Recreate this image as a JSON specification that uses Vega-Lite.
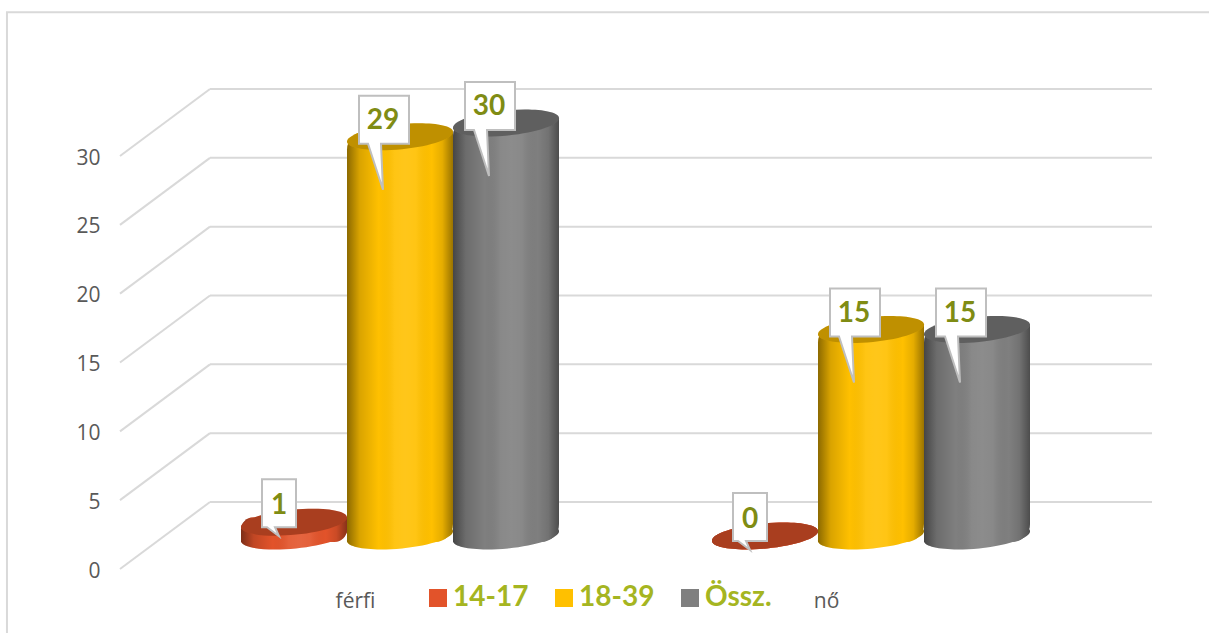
{
"$schema":"https://vega.github.io/schema/vega-lite/v6.json",
"width":942,"height":413,
"autosize":"none",
"padding":{"left":120,"top":156,"right":147,"bottom":64},
"background":"white",
"config":{"view":{"stroke":null}},
"datasets":{
"rows":[
{"nem":"férfi","kor":"14-17","fo":1},
{"nem":"férfi","kor":"18-39","fo":29},
{"nem":"férfi","kor":"Össz.","fo":30},
{"nem":"nő","kor":"14-17","fo":0},
{"nem":"nő","kor":"18-39","fo":15},
{"nem":"nő","kor":"Össz.","fo":15}],
"grid":[{"v":0},{"v":5},{"v":10},{"v":15},{"v":20},{"v":25},{"v":30}]
},
"data":{"name":"rows"},
"layer":[
{"data":{"values":[{"a":1}]},
 "mark":{"type":"rect","fill":null,"stroke":"#d9d9d9","strokeWidth":2,"clip":false},
 "encoding":{
  "x":{"datum":-0.24,"type":"quantitative","scale":{"domain":[0,2],"nice":false,"zero":false},"axis":null},
  "x2":{"datum":2.35},
  "y":{"datum":40.45,"type":"quantitative","title":null,"scale":{"domain":[0,30],"nice":false},
   "axis":{"values":[0,5,10,15,20,25,30],"domain":false,"ticks":false,"grid":false,"labelPadding":20,"labelOffset":2,"labelFont":"Open Sans","labelFontSize":21,"labelColor":"#595959"}},
  "y2":{"datum":-6}}},
{"data":{"name":"grid"},
 "mark":{"type":"rule","stroke":"#d9d9d9","strokeWidth":2,"xOffset":90,"x2Offset":90,"yOffset":-67,"y2Offset":-67},
 "encoding":{
  "x":{"datum":0,"type":"quantitative","scale":{"domain":[0,2],"nice":false,"zero":false},"axis":null},
  "x2":{"datum":2},
  "y":{"field":"v","type":"quantitative","title":null}}},
{"data":{"name":"grid"},
 "mark":{"type":"rule","stroke":"#d9d9d9","strokeWidth":2,"x2Offset":90,"y2Offset":-67},
 "encoding":{
  "x":{"datum":0,"type":"quantitative","scale":{"domain":[0,2],"nice":false,"zero":false},"axis":null},
  "x2":{"datum":0},
  "y":{"field":"v","type":"quantitative","title":null},
  "y2":{"field":"v"}}},
{"encoding":{
  "x":{"field":"nem","type":"nominal","title":null,"scale":{"domain":["férfi","nő"],"paddingInner":0,"paddingOuter":0},
   "axis":{"domain":false,"ticks":false,"labelAngle":0,"labelPadding":21,"labelFont":"Open Sans","labelFontSize":21,"labelColor":"#595959"}},
  "xOffset":{"field":"kor","type":"nominal","scale":{"domain":["14-17","18-39","Össz."],"range":[121,439]}},
  "y":{"field":"fo","type":"quantitative","title":null}
 },
 "layer":[
 {"mark":{"type":"point","filled":true,"opacity":1,"size":11236,"strokeWidth":0,"yOffset":-33,"shape":"M-1,0.1 A1,0.235 -5.5 1 1 1,-0.1 A1,0.235 -5.5 1 1 -1,0.1 Z"},
  "encoding":{"y":{"datum":0,"type":"quantitative"},"color":{"field":"kor","type":"nominal","scale":{"domain":["14-17","18-39","Össz."],"range":["#e2532a","#ffc000","#7f7f7f"]},
   "legend":{"title":null,"orient":"none","legendX":304,"legendY":428,"direction":"horizontal","columns":3,"padding":0,"symbolType":"square","symbolSize":324,"symbolStrokeWidth":0,"symbolOpacity":1,"labelFont":"Lato","labelFontWeight":"bold","labelFontSize":28,"labelColor":"#a5b521","labelOffset":1,"columnPadding":21,"labelLimit":200}}}},
 {"mark":{"type":"point","filled":true,"opacity":1,"size":11236,"strokeWidth":0,"yOffset":-33,"shape":"M-1,0.1 A1,0.235 -5.5 1 1 1,-0.1 A1,0.235 -5.5 1 1 -1,0.1 Z",
   "fill":{"gradient":"linear","x1":0,"x2":1,"y1":0,"y2":0,"stops":[{"offset":0,"color":"rgba(0,0,0,0.45)"},{"offset":0.12,"color":"rgba(0,0,0,0.15)"},{"offset":0.3,"color":"rgba(0,0,0,0)"},{"offset":0.45,"color":"rgba(255,255,255,0.08)"},{"offset":0.55,"color":"rgba(255,255,255,0.1)"},{"offset":0.65,"color":"rgba(255,255,255,0.08)"},{"offset":0.8,"color":"rgba(0,0,0,0)"},{"offset":0.9,"color":"rgba(0,0,0,0.1)"},{"offset":1,"color":"rgba(0,0,0,0.4)"}]}},
  "encoding":{"y":{"datum":0,"type":"quantitative"}}},
 {"transform":[{"filter":"datum.fo>0"}],
  "mark":{"type":"bar","yOffset":-38,"y2Offset":-27,"cornerRadiusTopLeft":18,"cornerRadiusBottomRight":18},
  "encoding":{"y2":{"datum":0},"color":{"field":"kor","type":"nominal","legend":null}}},
 {"transform":[{"filter":"datum.fo>0"}],
  "mark":{"type":"bar","yOffset":-38,"y2Offset":-27,"cornerRadiusTopLeft":18,"cornerRadiusBottomRight":18,
   "fill":{"gradient":"linear","x1":0,"x2":1,"y1":0,"y2":0,"stops":[{"offset":0,"color":"rgba(0,0,0,0.45)"},{"offset":0.12,"color":"rgba(0,0,0,0.15)"},{"offset":0.3,"color":"rgba(0,0,0,0)"},{"offset":0.45,"color":"rgba(255,255,255,0.08)"},{"offset":0.55,"color":"rgba(255,255,255,0.1)"},{"offset":0.65,"color":"rgba(255,255,255,0.08)"},{"offset":0.8,"color":"rgba(0,0,0,0)"},{"offset":0.9,"color":"rgba(0,0,0,0.1)"},{"offset":1,"color":"rgba(0,0,0,0.4)"}]}},
  "encoding":{"y2":{"datum":0}}},
 {"mark":{"type":"point","filled":true,"opacity":1,"size":11236,"strokeWidth":0,"yOffset":-33,"shape":"M-1,0.1 A1,0.235 -5.5 1 1 1,-0.1 A1,0.235 -5.5 1 1 -1,0.1 Z"},
  "encoding":{"color":{"field":"kor","type":"nominal","legend":null}}},
 {"mark":{"type":"point","filled":true,"opacity":1,"size":11236,"strokeWidth":0,"yOffset":-33,"fill":"rgba(0,0,0,0.25)","shape":"M-1,0.1 A1,0.235 -5.5 1 1 1,-0.1 A1,0.235 -5.5 1 1 -1,0.1 Z"}},
 {"transform":[{"filter":"datum.kor!=='14-17'"}],
  "mark":{"type":"point","filled":true,"opacity":1,"size":10000,"fill":"white","stroke":"#bfbfbf","strokeWidth":2,"yOffset":-50,
   "shape":"M-0.82,-0.48 L0.18,-0.48 L0.18,0.48 L-0.38,0.48 L-0.34,1.4 L-0.64,0.48 L-0.82,0.48 Z"}},
 {"transform":[{"filter":"datum.kor==='14-17'"}],
  "mark":{"type":"point","filled":true,"opacity":1,"size":10000,"fill":"white","stroke":"#bfbfbf","strokeWidth":2,"yOffset":-52,
   "shape":"M-0.64,-0.48 L0.04,-0.48 L0.04,0.48 L-0.38,0.48 L-0.3,0.66 L-0.54,0.48 L-0.64,0.48 Z"}},
 {"transform":[{"filter":"datum.kor!=='14-17'"}],
  "mark":{"type":"text","font":"Lato","fontWeight":"bold","fontSize":28,"color":"#7f8c14","dx":-17,"dy":-49,"baseline":"middle"},
  "encoding":{"text":{"field":"fo","type":"quantitative"}}},
 {"transform":[{"filter":"datum.kor==='14-17'"}],
  "mark":{"type":"text","font":"Lato","fontWeight":"bold","fontSize":28,"color":"#7f8c14","dx":-15,"dy":-49,"baseline":"middle"},
  "encoding":{"text":{"field":"fo","type":"quantitative"}}}
 ]}
],
"resolve":{"scale":{"x":"independent"}}
}
